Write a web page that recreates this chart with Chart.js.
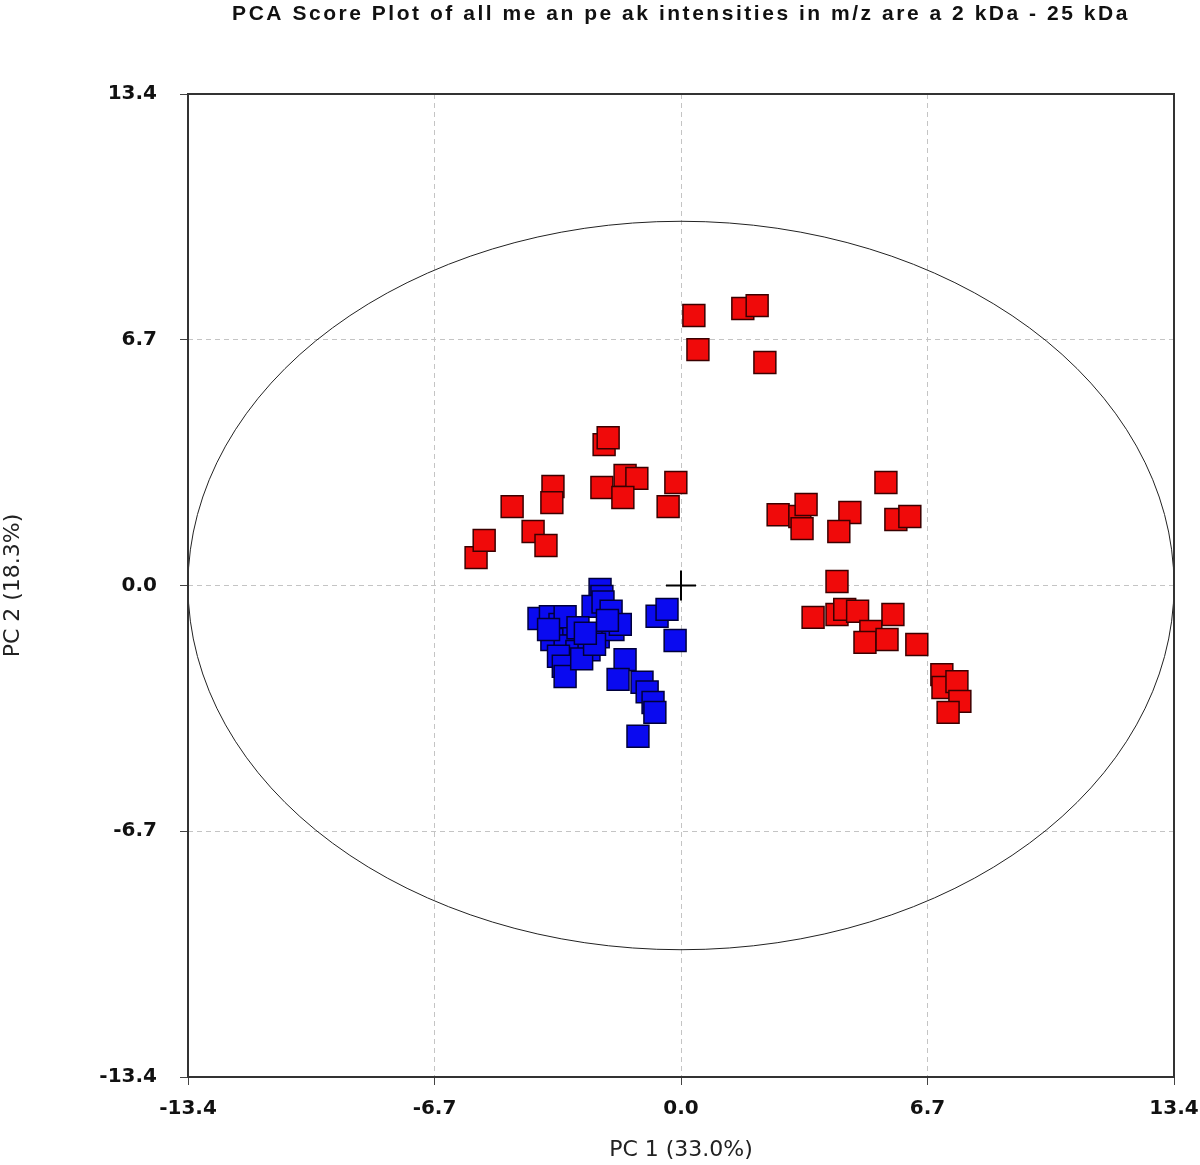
<!DOCTYPE html>
<html>
<head>
<meta charset="utf-8">
<title>PCA Score Plot</title>
<script src="https://cdn.jsdelivr.net/npm/chart.js@4/dist/chart.umd.min.js"></script>
<style>
  body { margin: 0; background: #fff; }
  canvas { display: block; }
</style>
</head>
<body>
<canvas id="pcaChart" width="1200" height="1165"></canvas>
<script>
const titleText = "PCA Score Plot of all me an pe ak intensities in m/z are a 2 kDa - 25 kDa";
const xTitle = "PC 1 (33.0%)";
const yTitle = "PC 2 (18.3%)";
const tickValues = [-13.4, -6.7, 0, 6.7, 13.4];

// red group scores
const redPC1 = [-5.57, -5.35, -4.59, -3.48, -3.51, -4.02, -3.67, -2.09, -1.98, -2.15, -1.52, -1.20, -1.58, -0.14, -0.35,
  0.35, 0.46, 1.68, 2.07, 2.28,
  5.57, 2.64, 3.23, 3.40, 3.29, 4.59, 4.29, 5.84, 6.22,
  4.24, 3.59, 4.24, 4.45, 4.80, 5.76, 5.16, 5.00, 5.60, 6.41, 7.09, 7.12, 7.50, 7.58, 7.26];
const redPC2 = [0.76, 1.23, 2.15, 2.70, 2.26, 1.47, 1.09, 3.84, 4.03, 2.67, 3.00, 2.92, 2.40, 2.81, 2.15,
  7.36, 6.43, 7.55, 7.63, 6.08,
  2.81, 1.93, 1.88, 2.21, 1.55, 1.99, 1.47, 1.80, 1.88,
  0.11, -0.87, -0.79, -0.65, -0.70, -0.79, -1.25, -1.55, -1.47, -1.61, -2.43, -2.78, -2.62, -3.16, -3.46];

// blue group scores
const bluePC1 = [-2.20, -2.15, -3.86, -3.55, -3.29, -3.15, -2.39, -2.12, -1.90, -0.65, -0.38, -0.16, -3.51, -3.15,
  -2.83, -3.33, -2.50, -2.25, -1.85, -1.65, -3.20, -3.15, -2.70, -2.35, -1.52, -1.71, -1.06, -0.92, -0.76, -0.71,
  -1.17, -2.80, -2.00, -3.60, -2.60];
const bluePC2 = [-0.11, -0.30, -0.90, -0.85, -1.06, -0.85, -0.57, -0.45, -0.70, -0.84, -0.65, -1.50, -1.47, -1.65,
  -1.80, -1.93, -1.75, -1.40, -1.20, -1.06, -2.20, -2.48, -2.00, -1.60, -2.02, -2.56, -2.64, -2.90, -3.19, -3.46,
  -4.11, -1.15, -0.95, -1.20, -1.30];

// Hotelling ellipse half axes
const ellipseRX = 13.4;
const ellipseRY = 9.93;

const toPoints = (xs, ys) => xs.map((x, i) => ({ x: x, y: ys[i] }));

const ellipsePlugin = {
  id: 'ellipse',
  beforeDatasetsDraw(chart) {
    const { ctx, scales } = chart;
    const cx = scales.x.getPixelForValue(0), cy = scales.y.getPixelForValue(0);
    const rx = Math.abs(scales.x.getPixelForValue(ellipseRX) - cx);
    const ry = Math.abs(scales.y.getPixelForValue(ellipseRY) - cy);
    ctx.save();
    ctx.strokeStyle = '#222';
    ctx.lineWidth = 1;
    ctx.beginPath();
    ctx.ellipse(cx, cy, rx, ry, 0, 0, Math.PI * 2);
    ctx.stroke();
    ctx.restore();
  }
};

const framePlugin = {
  id: 'frame',
  afterDraw(chart) {
    const { ctx, chartArea: a } = chart;
    ctx.save();
    ctx.strokeStyle = '#333';
    ctx.lineWidth = 2;
    ctx.strokeRect(a.left, a.top, a.right - a.left, a.bottom - a.top);
    // title, centred over the plot area
    ctx.fillStyle = '#111';
    ctx.font = 'bold 21px "Liberation Sans"';
    ctx.textAlign = 'center';
    ctx.textBaseline = 'middle';
    const w = ctx.measureText(titleText).width;
    ctx.letterSpacing = Math.max(0, (895 - w) / (titleText.length - 1)).toFixed(2) + 'px';
    ctx.fillText(titleText, (a.left + a.right) / 2, 14);
    ctx.restore();
  }
};

const axisCommon = {
  type: 'linear',
  min: -13.4,
  max: 13.4,
  afterBuildTicks: axis => { axis.ticks = tickValues.map(v => ({ value: v })); },
  ticks: {
    color: '#111',
    font: { family: 'DejaVu Sans', size: 20, weight: 'bold' },
    callback: v => (Math.abs(v) < 1e-9 ? 0 : v).toFixed(1)
  },
  grid: {
    color: '#c4c4c4',
    lineWidth: 1,
    tickColor: '#444',
    tickLength: 8,
    tickWidth: 1,
    tickBorderDash: [1, 0]
  },
  border: { display: false, dash: [5, 4] }
};

new Chart(document.getElementById('pcaChart'), {
  type: 'scatter',
  data: {
    datasets: [
      {
        label: 'origin',
        data: [{ x: 0, y: 0 }],
        pointStyle: 'cross',
        pointRadius: 15,
        borderColor: '#000',
        borderWidth: 2
      },
      {
        label: 'blue',
        data: toPoints(bluePC1, bluePC2),
        pointStyle: 'rect',
        pointRadius: 15.5,
        backgroundColor: '#0a0af0',
        borderColor: '#00003a',
        borderWidth: 1.5
      },
      {
        label: 'red',
        data: toPoints(redPC1, redPC2),
        pointStyle: 'rect',
        pointRadius: 15.5,
        backgroundColor: '#f00a0a',
        borderColor: '#3a0000',
        borderWidth: 1.5
      }
    ]
  },
  options: {
    responsive: false,
    animation: false,
    layout: { padding: { top: 94, right: 26, left: 0, bottom: 0 } },
    plugins: {
      legend: { display: false },
      tooltip: { enabled: false },
      title: { display: false }
    },
    scales: {
      x: {
        ...axisCommon,
        ticks: { ...axisCommon.ticks, padding: 12, maxRotation: 0 },
        afterFit: axis => {
          axis.height = 88;
          axis.paddingLeft = 0;
          axis.paddingRight = 0;
        },
        title: {
          display: true,
          text: xTitle,
          color: '#222',
          font: { family: 'DejaVu Sans', size: 22 },
          padding: { top: 0, bottom: 2 }
        }
      },
      y: {
        ...axisCommon,
        ticks: { ...axisCommon.ticks, padding: 23 },
        afterFit: axis => {
          axis.width = 188;
          axis.paddingTop = 0;
          axis.paddingBottom = 0;
        },
        title: {
          display: true,
          text: yTitle,
          color: '#222',
          font: { family: 'DejaVu Sans', size: 22 },
          padding: { top: 0, bottom: 0 }
        }
      }
    }
  },
  plugins: [ellipsePlugin, framePlugin]
});
</script>
</body>
</html>
